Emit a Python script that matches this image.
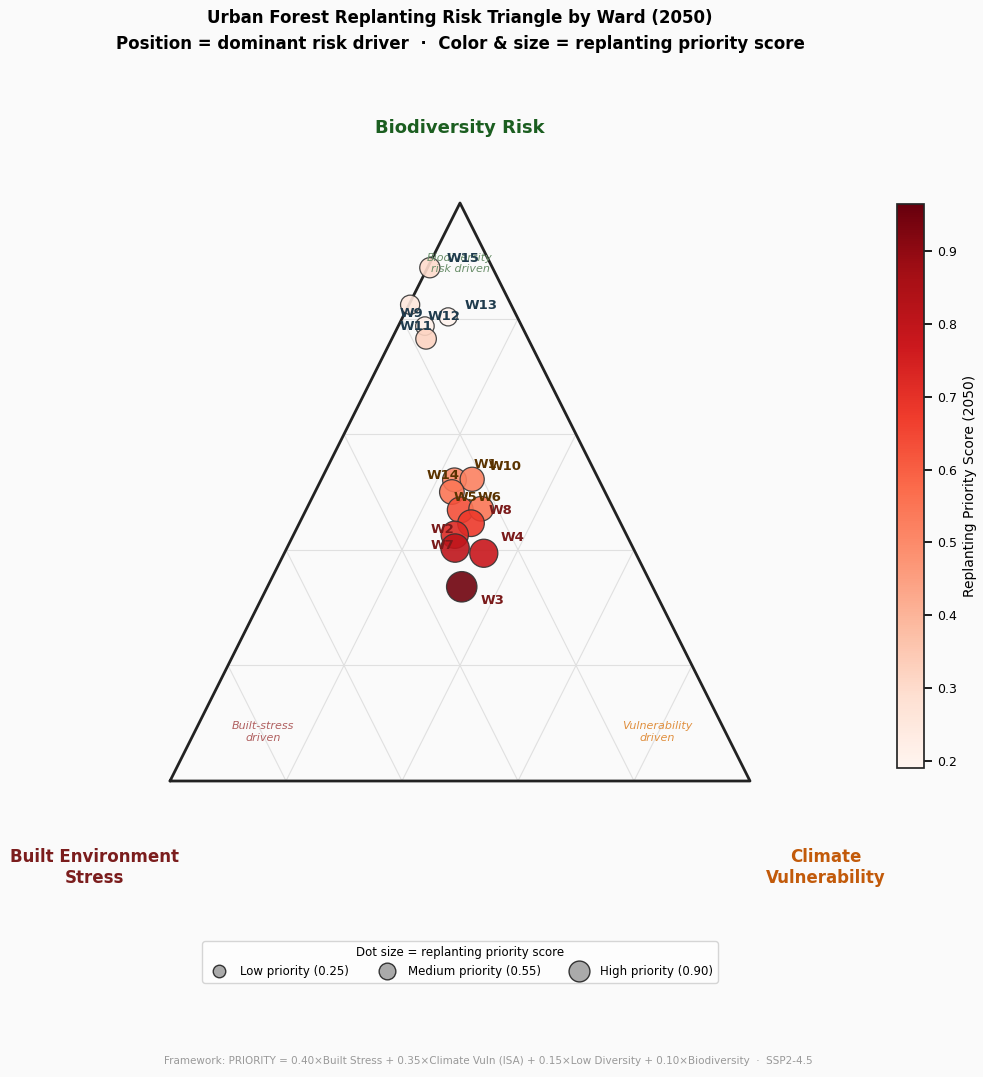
import numpy as np, pandas as pd, seaborn as sns, matplotlib
matplotlib.use("Agg")
import matplotlib.pyplot as plt
from matplotlib.colors import Normalize
from matplotlib.lines import Line2D

wards = ["W15","W9","W13","W12","W11","W1","W10","W14","W5","W6","W8","W2","W7","W4","W3"]
built = [0.108,0.174,0.119,0.167,0.176,0.249,0.218,0.264,0.265,0.228,0.258,0.296,0.307,0.262,0.329]
climate = [0.004,0.002,0.078,0.046,0.059,0.230,0.260,0.236,0.266,0.301,0.296,0.278,0.290,0.344,0.335]
biodiv = [0.888,0.824,0.803,0.787,0.765,0.521,0.522,0.500,0.469,0.471,0.446,0.426,0.403,0.394,0.336]
priority = [0.30,0.25,0.20,0.22,0.32,0.50,0.52,0.55,0.63,0.55,0.68,0.72,0.80,0.78,0.95]
label_dx = [24,1,24,14,-7,22,24,-6,4,6,21,-9,-9,21,22]
label_dy = [7,-6.5,8,7,9,11,9,12,9,8,9,4,1.5,11,-10]
label_col = ["#1f3b4d"]*5 + ["#5a3300"]*5 + ["#7a1a1a"]*5

BG = "#fafafa"
sns.set_theme(style="white")
plt.rcParams["text.color"] = "black"
fig = plt.figure(figsize=(9.83,10.77), dpi=100, facecolor=BG)
ax = fig.add_axes([170/983, (1077-781)/1077, 580/983, 578/1077])
ax.set_facecolor(BG)
ax.set_xlim(0,1); ax.set_ylim(0,1); ax.axis("off")

b = np.array(biodiv); c = np.array(climate)
df = pd.DataFrame({"x": c + b/2, "y": b, "p": priority, "w": wards})

for t in [0.2,0.4,0.6,0.8]:
    ax.plot([t/2, 1-t/2],[t,t], color="#e0e0e0", lw=0.8, zorder=0)
    ax.plot([t, t + (1-t)/2],[0,1-t], color="#e0e0e0", lw=0.8, zorder=0)
    ax.plot([t, t/2],[0,t], color="#e0e0e0", lw=0.8, zorder=0)
ax.plot([0,1,0.5,0],[0,0,1,0], color="#222222", lw=2, zorder=1, clip_on=False)

norm = Normalize(0.19, 0.965)
sns.scatterplot(data=df, x="x", y="y", hue="p", palette="Reds", hue_norm=norm,
                size="p", sizes=(170,480), size_norm=(0.2,0.95),
                edgecolor="#333333", linewidth=0.9, alpha=0.9, legend=False, ax=ax, zorder=3, clip_on=False)
for i,r in df.iterrows():
    ax.annotate(r.w, (r.x, r.y), xytext=(label_dx[i], label_dy[i]), textcoords="offset points",
                ha="center", va="center", fontsize=9.5, fontweight="bold", color=label_col[i], zorder=4)

ax.text(0.5, 1.13, "Biodiversity Risk", ha="center", va="center", fontsize=13, fontweight="bold", color="#1b5e20", transform=ax.transAxes)
ax.text(-0.13, -0.15, "Built Environment\nStress", ha="center", va="center", fontsize=12, fontweight="bold", color="#7b1d1d", transform=ax.transAxes)
ax.text(1.13, -0.15, "Climate\nVulnerability", ha="center", va="center", fontsize=12, fontweight="bold", color="#c25a0a", transform=ax.transAxes)
ax.text(0.5, 0.895, "Biodiversity\nrisk driven", ha="center", va="center", fontsize=8, style="italic", color="#6a8f6a", transform=ax.transAxes)
ax.text(0.16, 0.085, "Built-stress\ndriven", ha="center", va="center", fontsize=8, style="italic", color="#b06060", transform=ax.transAxes)
ax.text(0.84, 0.085, "Vulnerability\ndriven", ha="center", va="center", fontsize=8, style="italic", color="#e09040", transform=ax.transAxes)

cax = fig.add_axes([897/983, (1077-768)/1077, 27/983, 564/1077])
sm = plt.cm.ScalarMappable(norm=norm, cmap="Reds")
cb = fig.colorbar(sm, cax=cax)
cb.set_label("Replanting Priority Score (2050)", fontsize=10, color="black")
cb.ax.tick_params(labelsize=9, colors="black")

fig.text(0.468, 0.983, "Urban Forest Replanting Risk Triangle by Ward (2050)", ha="center", va="center", fontsize=12, fontweight="bold")
fig.text(0.468, 0.959, "Position = dominant risk driver  ·  Color & size = replanting priority score", ha="center", va="center", fontsize=12, fontweight="bold")

handles = [Line2D([],[], marker="o", ls="", markersize=m, markerfacecolor="#aaaaaa", markeredgecolor="#333333") for m in (9,12,15)]
fig.legend(handles, ["Low priority (0.25)","Medium priority (0.55)","High priority (0.90)"], ncol=3,
           loc="center", bbox_to_anchor=(460/983, 1-962/1077), fontsize=8.5, title="Dot size = replanting priority score",
           title_fontsize=8.5, frameon=True, columnspacing=2.2, facecolor="white")
fig.text(0.497, 0.015, "Framework: PRIORITY = 0.40×Built Stress + 0.35×Climate Vuln (ISA) + 0.15×Low Diversity + 0.10×Biodiversity  ·  SSP2-4.5",
         ha="center", va="center", fontsize=7.5, color="#999999")
fig.savefig("out.png", dpi=100, facecolor=BG)
